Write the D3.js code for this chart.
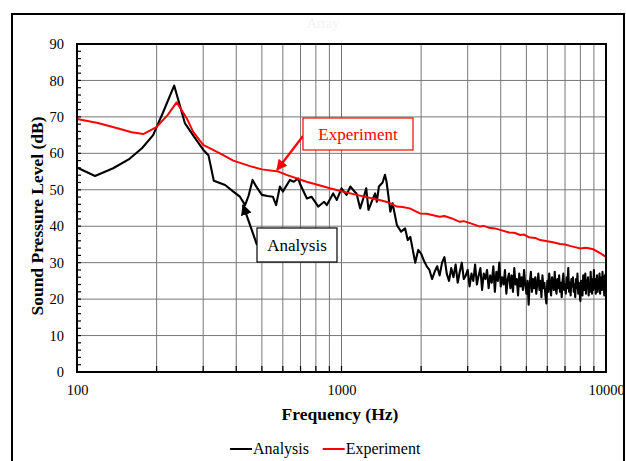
<!DOCTYPE html>
<html>
<head>
<meta charset="utf-8">
<script src="https://cdn.jsdelivr.net/npm/d3@7/dist/d3.min.js"></script>
<style>
body{margin:0;background:#fff;}
svg{display:block;font-family:"Liberation Serif","Times New Roman",serif;}
</style>
</head>
<body>
<svg id="chart" width="626" height="461"></svg>
<script>
// 周波数と音圧レベル
var analysisLow=[[100,56.1],[117,53.8],[137,55.9],[158,58.5],[176,61.4],[194,65.0],[212,71.4],[233,78.6],[256,68.2],[280,64.1],[300,61.0],[314,59.5],[329,52.5],[363,51.3],[390,49.5],[413,48.1],[432,45.8],[446,48.5],[461,52.7],[475,51.0],[500,48.6],[525,48.3],[550,48.1],[566,45.8],[585,50.9],[600,49.5],[638,52.7],[660,52.2],[685,53.1],[700,51.3],[740,47.6],[770,48.1],[817,45.4],[860,46.7],[880,45.8],[930,49.0],[960,47.2],[1000,50.4],[1045,48.6],[1080,50.9],[1120,49.5],[1140,49.0],[1176,44.9],[1215,48.1],[1240,50.4],[1265,44.5],[1300,46.7],[1340,49.0],[1360,46.7],[1385,50.9],[1430,52.0],[1460,54.1],[1480,52.2],[1500,49.0],[1530,44.0],[1560,46.3],[1620,40.3],[1680,38.5],[1740,39.4],[1780,36.2],[1820,37.1],[1860,33.5],[1900,30.0],[1950,33.5]];
var analysisHighStart=2000,analysisHighStep=50;
var analysisHigh=[32.5,30.5,29,28,25.5,27.5,29,26.5,30,31.5,
27,25,28.5,26,29.5,24.5,27.5,30,25.5,26.5,
28,23.5,27,25,29.5,24,26.5,28.5,22.5,27,
25.5,28,23,26.5,24.5,29,22,27.5,25,30,
23.5,26,24,28,21.5,25.5,27,23,26.5,22,
28.5,24,25.5,21,27,23.5,26,22.5,28,24,
21.5,25,18.5,24.5,27.5,22,25.5,23,26,21.5,
24.5,27,22.5,25,20.5,26.5,23,24.5,21,18.8,
25,22,27,23.5,21,26,24,22.5,27.5,23,
21.5,25.5,23,26.5,22,24.5,20.5,25,27,22.5,
24,21.5,26,23,28.5,22,24.5,21,25.5,23.5,
26,22,24,20.5,25.5,23,27,21.5,24.5,22,
19.5,25,23.5,21,26.5,22.5,24,27,21.5,25,
23,26,21,24.5,22,27.5,23.5,21.5,25.5,22.5,
28,23,25.5,21.5,24,26.5,22,25,23.5,27,
21.5,24.5,26,22.5,27.5,23,25,21,26.5,24,
27.5];
var experiment=[[100,69.4],[120,68.3],[140,67.0],[161,65.8],[178,65.3],[199,67.1],[220,70.5],[238,74.0],[260,69.6],[275,65.9],[300,62.3],[347,60.0],[390,58.0],[451,56.5],[500,55.6],[577,55.0],[620,54.1],[738,52.2],[904,50.4],[1000,49.6],[1140,48.6],[1390,47.2],[1500,46.6],[1620,45.4],[1700,45.3],[1810,44.9],[1980,43.5],[2100,43.4],[2200,43.1],[2350,42.6],[2450,42.8],[2600,42.2],[2800,41.2],[2900,41.4],[3100,40.7],[3340,39.9],[3450,40.1],[3600,39.6],[3800,39.4],[3980,39.0],[4300,38.3],[4500,38.2],[4740,37.6],[4900,37.7],[5100,37.0],[5400,36.8],[5640,36.2],[6000,35.9],[6300,35.6],[6710,35.1],[7000,35.0],[7300,34.6],[7700,34.2],[8000,33.9],[8400,34.1],[8700,33.9],[9000,33.6],[9500,32.6],[10000,31.6]];
var xLabels=[100,1000,10000];
var yTicks=[0,10,20,30,40,50,60,70,80,90];
var seriesNames=["Analysis","Experiment"];
var seriesColors=["#000000","#ff0000"];

var svg=d3.select("#chart");
var x=d3.scaleLog().domain([100,10000]).range([77,606]);
var y=d3.scaleLinear().domain([0,90]).range([372,44]);

// 外枠とタイトル
svg.append("rect").attr("x",12).attr("y",14).attr("width",612).attr("height",460)
	.attr("fill","none").attr("stroke","#000").attr("stroke-width",2);
svg.append("text").attr("x",323).attr("y",28).attr("text-anchor","middle")
	.attr("font-size",14).attr("fill","#f3f3f3").text("Array");

// グリッド
var gridX=[];
[100,1000].forEach(function(d){for(var k=2;k<=9;k++){gridX.push(d*k);}});
gridX.push(1000);
svg.append("g").selectAll("line").data(gridX).enter().append("line")
	.attr("x1",function(d){return x(d);}).attr("x2",function(d){return x(d);})
	.attr("y1",y(0)).attr("y2",y(90)).attr("stroke","#777").attr("stroke-width",1);
svg.append("g").selectAll("line").data(yTicks.slice(1,9)).enter().append("line")
	.attr("x1",x(100)).attr("x2",x(10000))
	.attr("y1",function(d){return y(d);}).attr("y2",function(d){return y(d);})
	.attr("stroke","#777").attr("stroke-width",1);

// 目盛り
svg.append("g").selectAll("line").data(gridX).enter().append("line")
	.attr("x1",function(d){return x(d);}).attr("x2",function(d){return x(d);})
	.attr("y1",y(0)).attr("y2",y(0)-6).attr("stroke","#000").attr("stroke-width",1.2);
svg.append("g").selectAll("line").data(d3.range(0,91,2)).enter().append("line")
	.attr("x1",x(100)).attr("x2",x(100)+4)
	.attr("y1",function(d){return y(d);}).attr("y2",function(d){return y(d);})
	.attr("stroke","#000").attr("stroke-width",1.2);

// 軸ラベル
var xAxis=svg.append("g").attr("transform","translate(0,"+y(0)+")")
	.call(d3.axisBottom(x).tickValues(xLabels).tickSize(0).tickPadding(13).tickFormat(d3.format("d")));
xAxis.select(".domain").remove();
xAxis.selectAll("text").attr("font-size",14.5).attr("font-family","Liberation Serif").attr("fill","#000");
var yAxis=svg.append("g").attr("transform","translate("+x(100)+",0)")
	.call(d3.axisLeft(y).tickValues(yTicks).tickSize(0).tickPadding(13));
yAxis.select(".domain").remove();
yAxis.selectAll("text").attr("font-size",14.5).attr("font-family","Liberation Serif").attr("fill","#000");

// データ線
var line=d3.line().x(function(d){return x(d[0]);}).y(function(d){return y(d[1]);});
var analysis=analysisLow.concat(analysisHigh.map(function(v,i){return [analysisHighStart+i*analysisHighStep,v];}));
var plot=svg.append("g");
plot.append("path").datum(analysis).attr("d",line).attr("fill","none")
	.attr("stroke",seriesColors[0]).attr("stroke-width",2.1).attr("stroke-linejoin","round");
plot.append("path").datum(experiment).attr("d",line).attr("fill","none")
	.attr("stroke",seriesColors[1]).attr("stroke-width",2).attr("stroke-linejoin","round");

// プロット枠
svg.append("rect").attr("x",x(100)).attr("y",y(90)).attr("width",x(10000)-x(100)).attr("height",y(0)-y(90))
	.attr("fill","none").attr("stroke","#000").attr("stroke-width",2);

// 軸タイトル
svg.append("text").attr("x",340).attr("y",420).attr("text-anchor","middle")
	.attr("font-size",17.5).attr("font-weight","bold").text("Frequency (Hz)");
svg.append("text").attr("transform","translate(43,216) rotate(-90)").attr("text-anchor","middle")
	.attr("font-size",17.5).attr("font-weight","bold").text("Sound Pressure Level (dB)");

// 注記
var defs=svg.append("defs");
seriesColors.forEach(function(c,i){
	defs.append("marker").attr("id","arr"+i).attr("viewBox","0 0 10 10").attr("refX",9).attr("refY",5)
		.attr("markerWidth",5).attr("markerHeight",5).attr("orient","auto")
		.append("path").attr("d","M0,0L10,5L0,10z").attr("fill",c);
});
var notes=[
	{name:seriesNames[1],color:seriesColors[1],bx:303,by:118,bw:110,bh:32,from:[303,136],to:[277,170],idx:1},
	{name:seriesNames[0],color:seriesColors[0],bx:257,by:228,bw:80,bh:34,from:[257,245],to:[243,205],idx:0}
];
notes.forEach(function(n){
	svg.append("line").attr("x1",n.from[0]).attr("y1",n.from[1]).attr("x2",n.to[0]).attr("y2",n.to[1])
		.attr("stroke",n.color).attr("stroke-width",2.2).attr("marker-end","url(#arr"+n.idx+")");
	svg.append("rect").attr("x",n.bx).attr("y",n.by).attr("width",n.bw).attr("height",n.bh)
		.attr("fill","#fff").attr("stroke",n.color).attr("stroke-width",1.2);
	svg.append("text").attr("x",n.bx+n.bw/2).attr("y",n.by+n.bh/2+6).attr("text-anchor","middle")
		.attr("font-size",17).attr("fill",n.color).text(n.name);
});

// 凡例
var legend=svg.append("g").attr("transform","translate(230,449)");
seriesNames.forEach(function(s,i){
	var g=legend.append("g").attr("transform","translate("+(i*92.7)+",0)");
	g.append("line").attr("x1",0).attr("x2",22).attr("y1",0).attr("y2",0)
		.attr("stroke",seriesColors[i]).attr("stroke-width",2);
	g.append("text").attr("x",23).attr("y",4.5).attr("font-size",16).text(s);
});
</script>
</body>
</html>
